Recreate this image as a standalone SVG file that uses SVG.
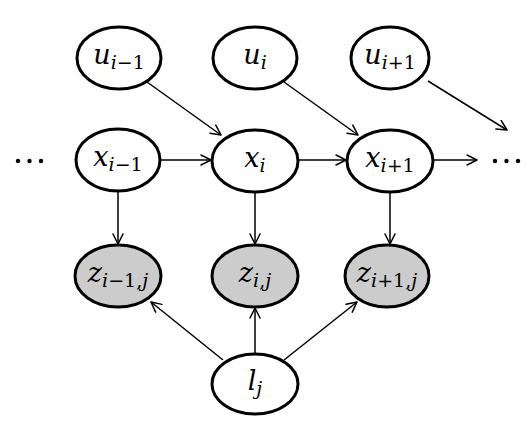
<svg xmlns="http://www.w3.org/2000/svg" width="531" height="425" viewBox="0 0 531 425">
<defs>
<style>
.n ellipse{stroke:#000;stroke-width:3;fill:#fff}
.n.obs ellipse{fill:#cccccc}
.t{font-family:"DejaVu Serif",serif;font-size:27px;fill:#000;text-anchor:middle}
.v{font-style:italic}
.s{font-size:19px}
.e line{stroke:#000;stroke-width:1.5;fill:none}
</style>
<marker id="a" viewBox="0 0 12 12" refX="11" refY="6" markerWidth="12" markerHeight="12" markerUnits="userSpaceOnUse" orient="auto">
<path d="M1,1 L11,6 L1,11" fill="none" stroke="#000" stroke-width="1.5" stroke-linecap="round" stroke-linejoin="round"/>
</marker>
</defs>
<rect width="531" height="425" fill="#fff"/>
<g class="e" id="connectors">
<line x1="147" y1="82" x2="221" y2="135" marker-end="url(#a)"/>
<line x1="284" y1="82" x2="358" y2="135" marker-end="url(#a)"/>
<line x1="428" y1="81" x2="507" y2="130" marker-end="url(#a)"/>
<line x1="160" y1="160" x2="211" y2="160" marker-end="url(#a)"/>
<line x1="298" y1="160" x2="346" y2="160" marker-end="url(#a)"/>
<line x1="433" y1="160" x2="477" y2="160" marker-end="url(#a)"/>
<line x1="118" y1="192" x2="118" y2="244" marker-end="url(#a)"/>
<line x1="255" y1="192" x2="255" y2="244" marker-end="url(#a)"/>
<line x1="390" y1="192" x2="390" y2="244" marker-end="url(#a)"/>
<line x1="223" y1="360" x2="151" y2="302" marker-end="url(#a)"/>
<line x1="255" y1="353" x2="255" y2="308" marker-end="url(#a)"/>
<line x1="284" y1="360" x2="357" y2="302" marker-end="url(#a)"/>
</g>
<g id="dots-left"><circle cx="18" cy="161" r="2.2"/><circle cx="29.5" cy="161" r="2.2"/><circle cx="41" cy="161" r="2.2"/></g>
<g id="dots-right"><circle cx="495" cy="161" r="2.2"/><circle cx="506.5" cy="161" r="2.2"/><circle cx="518" cy="161" r="2.2"/></g>
<g class="n" id="u_im1"><ellipse cx="119" cy="58" rx="42" ry="31"/><text class="t" x="119" y="64"><tspan class="v">u</tspan><tspan class="s" dy="5"><tspan class="v">i</tspan>−1</tspan></text></g>
<g class="n" id="u_i"><ellipse cx="255" cy="58" rx="42" ry="31"/><text class="t" x="255" y="64"><tspan class="v">u</tspan><tspan class="s v" dy="5">i</tspan></text></g>
<g class="n" id="u_ip1"><ellipse cx="390" cy="58" rx="39" ry="31"/><text class="t" x="390" y="64"><tspan class="v">u</tspan><tspan class="s" dy="5"><tspan class="v">i</tspan>+1</tspan></text></g>
<g class="n" id="x_im1"><ellipse cx="118" cy="160" rx="42" ry="31"/><text class="t" x="118" y="166"><tspan class="v">x</tspan><tspan class="s" dy="5"><tspan class="v">i</tspan>−1</tspan></text></g>
<g class="n" id="x_i"><ellipse cx="255" cy="161" rx="43" ry="31"/><text class="t" x="255" y="167"><tspan class="v">x</tspan><tspan class="s v" dy="5">i</tspan></text></g>
<g class="n" id="x_ip1"><ellipse cx="390" cy="161" rx="43" ry="31"/><text class="t" x="390" y="167"><tspan class="v">x</tspan><tspan class="s" dy="5"><tspan class="v">i</tspan>+1</tspan></text></g>
<g class="n obs" id="z_im1j"><ellipse cx="118" cy="276" rx="43" ry="31"/><text class="t" x="118" y="282"><tspan class="v">z</tspan><tspan class="s" dy="5"><tspan class="v">i</tspan>−1,<tspan class="v">j</tspan></tspan></text></g>
<g class="n obs" id="z_ij"><ellipse cx="255" cy="276" rx="43" ry="31"/><text class="t" x="255" y="282"><tspan class="v">z</tspan><tspan class="s" dy="5"><tspan class="v">i</tspan>,<tspan class="v">j</tspan></tspan></text></g>
<g class="n obs" id="z_ip1j"><ellipse cx="387" cy="276" rx="42" ry="31"/><text class="t" x="387" y="282"><tspan class="v">z</tspan><tspan class="s" dy="5"><tspan class="v">i</tspan>+1,<tspan class="v">j</tspan></tspan></text></g>
<g class="n" id="l_j"><ellipse cx="255" cy="384" rx="43" ry="30"/><text class="t" x="255" y="390"><tspan class="v">l</tspan><tspan class="s v" dy="5">j</tspan></text></g>
</svg>
